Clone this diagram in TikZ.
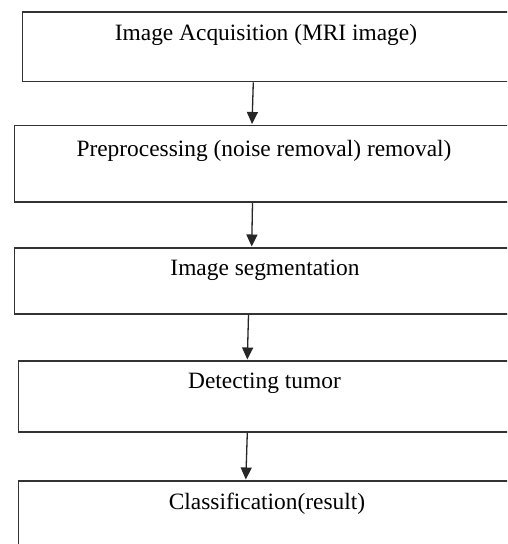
\documentclass[tikz,border=0pt]{standalone}
\usepackage{fontspec}
\setmainfont{Liberation Serif}
\usetikzlibrary{arrows.meta}
\tikzset{
  stagebox/.style={draw=black!80, line width=1.8pt, fill=none, inner sep=0pt, anchor=north west},
  stagetext/.style={anchor=base, inner sep=0pt, font=\fontsize{23.4}{28}\selectfont, text=black},
  arr/.style={draw=black!85, line width=1.3pt, -{Triangle[width=11pt,length=12pt]}, shorten >=0.5pt}
}
\begin{document}
\begin{tikzpicture}[x=1pt,y=-1pt]
\useasboundingbox (0,0) rectangle (507,544);
\fill[white] (0,0) rectangle (507,544);
\clip (0,0) rectangle (507,544);
% boxes (right edges run past the picture)
\node[stagebox, minimum width=500pt, minimum height=69.5pt] (b1) at (21.5,11) {};
\node[stagebox, minimum width=508pt, minimum height=76.5pt] (b2) at (13.5,124.5) {};
\node[stagebox, minimum width=508pt, minimum height=66pt] (b3) at (13.5,247) {};
\node[stagebox, minimum width=504pt, minimum height=71pt] (b4) at (17.5,360) {};
\node[stagebox, minimum width=504pt, minimum height=90pt] (b5) at (17.5,480) {};
% texts
\node[stagetext] (t1) at (266,40) {Image Acquisition (MRI image)};
\node[stagetext] (t2) at (264,156) {Preprocessing (noise removal) removal)};
\node[stagetext] (t3) at (265,275.5) {Image segmentation};
\node[stagetext] (t4) at (264.5,388) {Detecting tumor};
\node[stagetext] (t5) at (267,509) {Classification(result)};
% arrow positions
\coordinate (s1) at (253.3,0); \coordinate (e1) at (252,0);
\coordinate (s2) at (252.5,0); \coordinate (e2) at (251.7,0);
\coordinate (s3) at (248.5,0); \coordinate (e3) at (247.3,0);
\coordinate (s4) at (247.3,0); \coordinate (e4) at (245.8,0);
\draw[arr] (b1.south -| s1) -- (b2.north -| e1);
\draw[arr] (b2.south -| s2) -- (b3.north -| e2);
\draw[arr] (b3.south -| s3) -- (b4.north -| e3);
\draw[arr] (b4.south -| s4) -- (b5.north -| e4);
\end{tikzpicture}
\end{document}
